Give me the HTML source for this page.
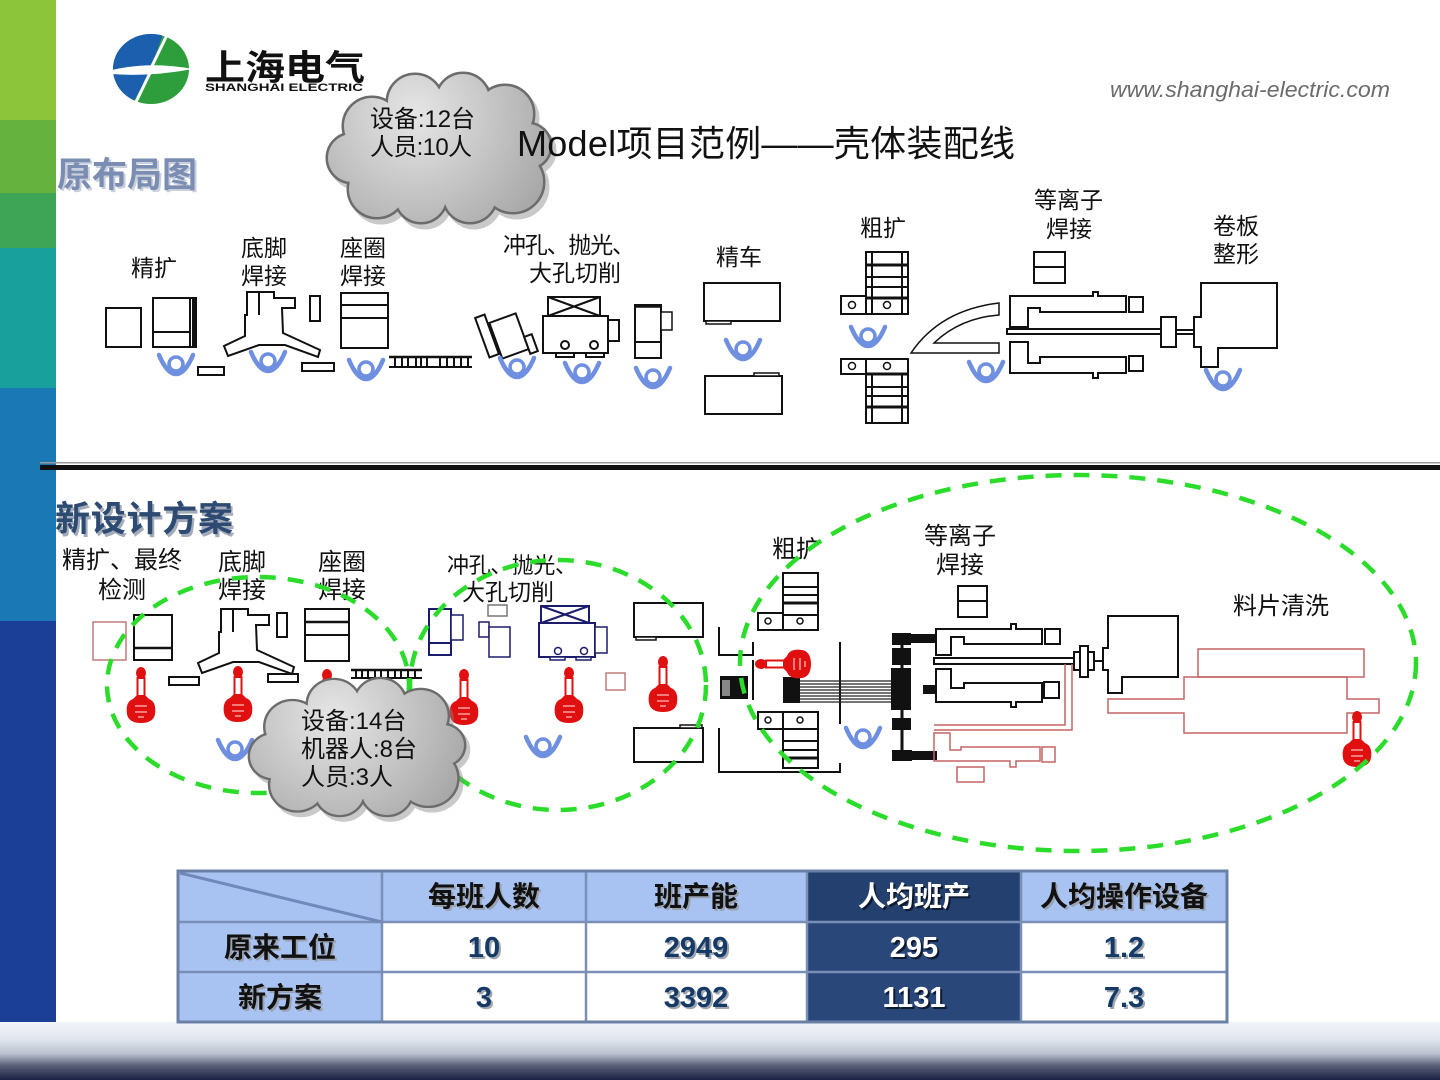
<!DOCTYPE html>
<html><head><meta charset="utf-8">
<style>
html,body{margin:0;padding:0;background:#fff;}
svg{display:block;}
text{font-family:"Liberation Sans","Noto Sans CJK SC",sans-serif;}
</style></head>
<body>
<svg width="1440" height="1080" viewBox="0 0 1440 1080" xmlns="http://www.w3.org/2000/svg" xmlns:xlink="http://www.w3.org/1999/xlink">
<defs>
 <linearGradient id="bot" x1="0" y1="0" x2="0" y2="1">
  <stop offset="0" stop-color="#f2f5fa"/>
  <stop offset="0.3" stop-color="#e0e6ee"/>
  <stop offset="0.55" stop-color="#b9bfcc"/>
  <stop offset="0.75" stop-color="#5a6078"/>
  <stop offset="1" stop-color="#1b2142"/>
 </linearGradient>
 <radialGradient id="cg" gradientUnits="userSpaceOnUse" cx="415" cy="115" r="160">
  <stop offset="0" stop-color="#e6e6e6"/>
  <stop offset="1" stop-color="#a2a2a2"/>
 </radialGradient>
 <g id="cc">
  <circle cx="372" cy="126" r="28"/><circle cx="415" cy="102" r="27"/><circle cx="463" cy="100" r="26"/>
  <circle cx="505" cy="114" r="28"/><circle cx="528" cy="146" r="22"/><circle cx="513" cy="182" r="30"/>
  <circle cx="470" cy="196" r="26"/><circle cx="421" cy="197" r="25"/><circle cx="377" cy="189" r="28"/>
  <circle cx="352" cy="158" r="24"/><circle cx="438" cy="150" r="55"/><circle cx="395" cy="152" r="45"/>
  <circle cx="482" cy="150" r="45"/>
 </g>
 <g id="cloud">
  <use xlink:href="#cc" href="#cc" fill="#888" stroke="#888" stroke-width="5" opacity="0.45" transform="translate(4,5)"/>
  <use xlink:href="#cc" href="#cc" fill="#6c6c6c" stroke="#6c6c6c" stroke-width="5"/>
  <use xlink:href="#cc" href="#cc" fill="url(#cg)"/>
 </g>
 <g id="op" fill="none" stroke="#6f8fe0" stroke-linecap="round">
  <path d="M-17,-10 C-12,2 -6,9 0,9 C6,9 12,2 17,-10" stroke-width="4.5"/>
  <circle cx="0" cy="-1" r="7" stroke-width="3.5"/>
 </g>
 <g id="rb">
  <ellipse cx="0" cy="5" rx="5" ry="6" fill="#e01010"/>
  <rect x="-3.5" y="10" width="7" height="18" fill="#fff" stroke="#e01010" stroke-width="2"/>
  <path d="M-4,27 H4 L8,31 C14,33 15,40 14,46 C13,52 8,55 0,55 C-8,55 -13,52 -14,46 C-15,40 -14,33 -8,31 Z" fill="#e01010"/>
  <path d="M-6,38 H6 M-6,44 H6 M-3,49 H3" stroke="#f7a0a0" stroke-width="1.5"/>
 </g>
 <g id="yfix">
  <polygon points="247,292 274,292 274,298 295,298 295,308 282,308 283,333 320,350 318,357 285,345 259,345 228,356 224,346 245,336 245,315 247,315" fill="#fff" stroke="#111" stroke-width="2"/>
  <line x1="259" y1="292" x2="259" y2="315" stroke="#111" stroke-width="2"/>
 </g>
 <clipPath id="lc"><ellipse cx="151" cy="69" rx="38" ry="35"/></clipPath>
</defs>

<!-- left bar -->
<rect x="0" y="0" width="56" height="120" fill="#8cc43a"/>
<rect x="0" y="120" width="56" height="73" fill="#66b23e"/>
<rect x="0" y="193" width="56" height="55" fill="#3ea456"/>
<rect x="0" y="248" width="56" height="140" fill="#17a09c"/>
<rect x="0" y="388" width="56" height="233" fill="#1a78b5"/>
<rect x="0" y="621" width="56" height="402" fill="#1b3e97"/>
<!-- bottom gradient -->
<rect x="0" y="1022" width="1440" height="58" fill="url(#bot)"/>

<!-- logo -->
<g clip-path="url(#lc)">
 <rect x="110" y="30" width="90" height="80" fill="#2e9e3c"/>
 <path d="M100,20 H168 L148,76 L132,104 H100 Z" fill="#1b5fae"/>
</g>
<path d="M112,70 Q150,61 193,69 Q150,77 112,74 Z" fill="#fff"/>
<line x1="168" y1="33" x2="150" y2="70" stroke="#fff" stroke-width="3"/>
<line x1="150" y1="73" x2="135" y2="104" stroke="#fff" stroke-width="3"/>
<text x="205" y="80" font-size="35" font-weight="bold" fill="#111" textLength="160" lengthAdjust="spacingAndGlyphs">上海电气</text>
<text x="205" y="91" font-size="11" font-weight="bold" fill="#111" textLength="158" lengthAdjust="spacingAndGlyphs">SHANGHAI ELECTRIC</text>

<text x="1110" y="97" font-size="22" font-style="italic" fill="#6b6b6b" textLength="280" lengthAdjust="spacingAndGlyphs">www.shanghai-electric.com</text>

<!-- cloud 1 -->
<use xlink:href="#cloud" href="#cloud"/>
<text x="370" y="127" font-size="24" fill="#111" textLength="105">设备:12台</text>
<text x="370" y="155" font-size="24" fill="#111" textLength="102">人员:10人</text>

<text x="517" y="156" font-size="36" fill="#111" textLength="498">Model项目范例——壳体装配线</text>

<text x="59" y="189" font-size="35" font-weight="bold" fill="#c9d0dc" textLength="140">原布局图</text>
<text x="57" y="187" font-size="35" font-weight="bold" fill="#7b8db2" textLength="140">原布局图</text>

<!-- top labels -->
<g font-size="23" fill="#111">
 <text x="131" y="276">精扩</text>
 <text x="241" y="256">底脚</text><text x="241" y="284">焊接</text>
 <text x="340" y="256">座圈</text><text x="340" y="284">焊接</text>
 <text x="503" y="253" textLength="132">冲孔、抛光、</text>
 <text x="529" y="281">大孔切削</text>
 <text x="716" y="265">精车</text>
 <text x="860" y="236">粗扩</text>
 <text x="1034" y="208">等离子</text><text x="1046" y="237">焊接</text>
 <text x="1213" y="234">卷板</text><text x="1213" y="262">整形</text>
</g>

<!-- top machines -->
<g fill="#fff" stroke="#111" stroke-width="2">
 <rect x="106" y="308" width="35" height="39"/>
 <rect x="153" y="298" width="43" height="49"/>
 <line x1="153" y1="332" x2="190" y2="332"/>
 <line x1="190" y1="298" x2="190" y2="347"/>
 <line x1="194" y1="298" x2="194" y2="347" stroke-width="4"/>
 <rect x="310" y="296" width="10" height="25"/>
 <rect x="198" y="367" width="26" height="8"/>
 <rect x="302" y="363" width="32" height="8"/>
 <rect x="341" y="293" width="47" height="55"/>
 <line x1="341" y1="305" x2="388" y2="305"/><line x1="341" y1="318" x2="388" y2="318"/>
 <!-- conveyor -->
 <line x1="389" y1="357" x2="472" y2="357" stroke-width="2.5"/>
 <line x1="389" y1="367" x2="472" y2="367" stroke-width="2"/>
 <path d="M395,357V367M402,357V367M408,357V367M416,357V367M421,357V367M427,357V367M440,357V367M447,357V367M454,357V367M461,357V367M468,357V367"/>
 <!-- punch -->
 <rect x="482" y="315" width="10" height="42" transform="rotate(-20 487 336)"/>
 <rect x="495" y="317" width="28" height="38" transform="rotate(-20 509 336)"/>
 <rect x="527" y="335" width="8" height="18" transform="rotate(-20 531 344)"/>
 <rect x="548" y="297" width="52" height="19"/>
 <path d="M548,297 L600,316 M600,297 L548,316" fill="none"/>
 <rect x="543" y="316" width="65" height="37"/>
 <circle cx="565" cy="345" r="4"/><circle cx="594" cy="345" r="4"/>
 <rect x="556" y="353" width="18" height="4"/><rect x="586" y="353" width="18" height="4"/>
 <rect x="608" y="320" width="11" height="21"/>
 <rect x="635" y="305" width="26" height="53"/>
 <line x1="635" y1="306" x2="661" y2="306" stroke-width="3.5"/>
 <line x1="635" y1="342" x2="661" y2="342"/>
 <rect x="661" y="312" width="11" height="18" stroke-width="1.5"/>
 <!-- 精车 -->
 <rect x="704" y="283" width="76" height="38"/>
 <rect x="706" y="321" width="25" height="3" stroke-width="1.5"/>
 <rect x="705" y="376" width="77" height="38"/>
 <rect x="754" y="373" width="25" height="3" stroke-width="1.5"/>
 <!-- 粗扩 -->
 <rect x="866" y="252" width="42" height="62"/>
 <path d="M872,252V314M902,252V314M866,277H908M866,287H908" fill="none"/>
 <path d="M866,265H908M866,298H908" stroke-width="3"/>
 <rect x="841" y="296" width="25" height="18"/>
 <circle cx="852" cy="305" r="3.5" stroke-width="1.5"/><circle cx="887" cy="305" r="3.5" stroke-width="1.5"/>
 <rect x="866" y="359" width="42" height="64"/>
 <path d="M872,374V423M902,374V423M866,387H908M866,396H908" fill="none"/>
 <path d="M866,374H908M866,407H908" stroke-width="3"/>
 <rect x="841" y="359" width="25" height="15"/>
 <circle cx="852" cy="366" r="3.5" stroke-width="1.5"/><circle cx="887" cy="366" r="3.5" stroke-width="1.5"/>
 <path d="M911,353 Q940,310 999,303 V315 Q960,318 934,343 H999 V353 Z" stroke-width="1.5"/>
 <!-- plasma -->
 <rect x="1034" y="252" width="31" height="15"/><rect x="1034" y="267" width="31" height="16"/>
 <path d="M1010,296 H1093 V292 H1098 V296 H1126 V312 H1040 V308 H1028 V327 H1010 Z"/>
 <rect x="1129" y="297" width="14" height="15"/>
 <rect x="1007" y="329" width="155" height="5"/>
 <path d="M1010,342 H1028 V363 H1040 V357 H1126 V373 H1098 V378 H1093 V373 H1010 Z"/>
 <rect x="1129" y="356" width="14" height="15"/>
 <rect x="1161" y="317" width="15" height="30"/>
 <rect x="1176" y="330" width="19" height="4"/>
 <path d="M1201,283 H1277 V348 H1218 V367 H1201 V347 H1194 V317 H1201 Z"/>
</g>
<use xlink:href="#yfix" href="#yfix"/>

<!-- top operators -->
<use xlink:href="#op" href="#op" x="176" y="365"/>
<use xlink:href="#op" href="#op" x="268" y="362"/>
<use xlink:href="#op" href="#op" x="366" y="370"/>
<use xlink:href="#op" href="#op" x="517" y="368"/>
<use xlink:href="#op" href="#op" x="582" y="373"/>
<use xlink:href="#op" href="#op" x="653" y="378"/>
<use xlink:href="#op" href="#op" x="743" y="350"/>
<use xlink:href="#op" href="#op" x="868" y="337"/>
<use xlink:href="#op" href="#op" x="986" y="372"/>
<use xlink:href="#op" href="#op" x="1223" y="380"/>

<!-- separator -->
<rect x="40" y="462" width="1400" height="1.5" fill="#9a9a9a"/>
<rect x="40" y="465" width="1400" height="5" fill="#111"/>

<!-- new design title -->
<text x="57" y="534" font-size="35" font-weight="bold" fill="#a4abb8" textLength="178">新设计方案</text>
<text x="55" y="531" font-size="35" font-weight="bold" fill="#2c4a72" textLength="178">新设计方案</text>

<!-- bottom labels -->
<g font-size="24" fill="#111">
 <text x="62" y="568" textLength="120">精扩、最终</text>
 <text x="98" y="598">检测</text>
 <text x="218" y="570">底脚</text><text x="218" y="598">焊接</text>
 <text x="318" y="570">座圈</text><text x="318" y="598">焊接</text>
 <text x="447" y="573" font-size="22" textLength="130">冲孔、抛光、</text>
 <text x="462" y="600" font-size="23">大孔切削</text>
 <text x="772" y="557">粗扩</text>
 <text x="924" y="544">等离子</text><text x="936" y="573">焊接</text>
 <text x="1233" y="614">料片清洗</text>
</g>

<!-- bottom machines left -->
<g fill="#fff" stroke="#111" stroke-width="2">
 <rect x="134" y="615" width="38" height="45"/>
 <line x1="134" y1="648" x2="172" y2="648" stroke-width="2.5"/>
 <rect x="277" y="613" width="10" height="24"/>
 <rect x="169" y="677" width="30" height="8"/>
 <rect x="268" y="674" width="30" height="8"/>
 <rect x="305" y="609" width="44" height="52"/>
 <line x1="305" y1="622" x2="349" y2="622" stroke-width="2.5"/><line x1="305" y1="635" x2="349" y2="635"/>
 <line x1="351" y1="670" x2="422" y2="670" stroke-width="2.5"/>
 <line x1="351" y1="678" x2="422" y2="678"/>
 <path d="M356,670V678M362,670V678M368,670V678M375,670V678M381,670V678M388,670V678M395,670V678M401,670V678M408,670V678M415,670V678"/>
</g>
<use xlink:href="#yfix" href="#yfix" transform="translate(-26,317)"/>
<rect x="93" y="622" width="33" height="38" fill="#fff" stroke="#c07a7a" stroke-width="1.5"/>
<rect x="606" y="673" width="19" height="17" fill="#fff" stroke="#c07a7a" stroke-width="1.5"/>
<g fill="#fff" stroke="#1c1c6c" stroke-width="2">
 <rect x="429" y="609" width="22" height="46"/>
 <line x1="429" y1="643" x2="451" y2="643"/>
 <rect x="451" y="615" width="12" height="25" stroke-width="1.5"/>
 <rect x="488" y="605" width="19" height="11" stroke="#777" stroke-width="1.5"/>
 <rect x="479" y="622" width="10" height="15" stroke-width="1.5"/>
 <rect x="489" y="627" width="21" height="30" stroke-width="1.5"/>
 <rect x="541" y="606" width="48" height="17"/>
 <path d="M541,606 L589,623 M589,606 L541,623" fill="none"/>
 <rect x="539" y="623" width="56" height="34"/>
 <rect x="595" y="627" width="12" height="26" stroke-width="1.5"/>
 <circle cx="558" cy="651" r="3.5" stroke-width="1.5"/><circle cx="584" cy="651" r="3.5" stroke-width="1.5"/>
 <rect x="550" y="657" width="15" height="3" stroke-width="1.5"/><rect x="576" y="657" width="15" height="3" stroke-width="1.5"/>
</g>
<g fill="#fff" stroke="#111" stroke-width="2">
 <rect x="634" y="603" width="69" height="34"/>
 <rect x="636" y="637" width="20" height="3" stroke-width="1.5"/>
 <rect x="634" y="728" width="69" height="34"/>
 <rect x="680" y="725" width="22" height="3" stroke-width="1.5"/>
</g>

<!-- bottom right group -->
<g fill="none" stroke="#111" stroke-width="2">
 <path d="M719,627 V655 H753 V642"/>
 <line x1="753" y1="660" x2="753" y2="700"/>
 <path d="M719,728 V772 H840 V763"/>
 <line x1="840" y1="642" x2="840" y2="724"/>
</g>
<rect x="720" y="676" width="28" height="23" fill="#111"/>
<rect x="722" y="680" width="8" height="16" fill="#888"/>
<g fill="#fff" stroke="#111" stroke-width="2">
 <rect x="783" y="573" width="35" height="57"/>
 <path d="M783,587H818M783,595H818M783,615H818" fill="none"/>
 <line x1="783" y1="603" x2="818" y2="603" stroke-width="3"/>
 <rect x="758" y="613" width="25" height="17"/>
 <rect x="783" y="712" width="35" height="56"/>
 <path d="M783,729H818M783,741H818M783,750H818" fill="none"/>
 <line x1="783" y1="758" x2="818" y2="758" stroke-width="3"/>
 <rect x="758" y="712" width="25" height="17"/>
 <circle cx="768" cy="621" r="3" stroke-width="1.5"/><circle cx="800" cy="621" r="3" stroke-width="1.5"/>
 <circle cx="768" cy="720" r="3" stroke-width="1.5"/><circle cx="800" cy="720" r="3" stroke-width="1.5"/>
</g>
<rect x="783" y="677" width="17" height="26" fill="#111"/>
<path d="M800,681H893M800,684H893M800,687H893M800,690H893M800,693H893M800,696H893M800,699H893M800,702H893" stroke="#222" stroke-width="1.2"/>
<line x1="902" y1="633" x2="902" y2="760" stroke="#111" stroke-width="3"/>
<g fill="#111">
 <rect x="892" y="633" width="19" height="12"/>
 <rect x="892" y="648" width="19" height="17"/>
 <rect x="891" y="668" width="20" height="42"/>
 <rect x="892" y="718" width="19" height="12"/>
 <rect x="892" y="750" width="20" height="11"/>
 <rect x="911" y="634" width="26" height="9"/>
 <rect x="923" y="685" width="14" height="9"/>
 <rect x="896" y="751" width="41" height="9"/>
</g>
<g fill="#fff" stroke="#111" stroke-width="2">
 <rect x="958" y="586" width="29" height="15"/><rect x="958" y="601" width="29" height="16"/>
 <path d="M936,629 H1011 V624 H1016 V629 H1042 V644 H964 V637 H951 V655 H936 Z"/>
 <rect x="1045" y="629" width="15" height="15"/>
 <rect x="934" y="658" width="160" height="6"/>
 <path d="M936,669 H951 V688 H964 V683 H1042 V702 H1016 V707 H1011 V702 H936 Z"/>
 <rect x="1044" y="682" width="15" height="16"/>
 <rect x="1074" y="652" width="20" height="18"/>
 <rect x="1080" y="646" width="8" height="31"/>
 <line x1="1094" y1="661" x2="1108" y2="661"/>
 <path d="M1108,616 H1178 V677 H1122 V693 H1108 V670 H1103 V648 H1108 Z"/>
</g>
<g fill="none" stroke="#c46464" stroke-width="1.5">
 <path d="M934,733 H950 V750 H961 V747 H1040 V761 H1016 V767 H1010 V761 H934 Z"/>
 <rect x="1042" y="747" width="13" height="15"/>
 <rect x="957" y="767" width="27" height="15"/>
 <path d="M934,725 H1065 V664 M1072,664 V730 H934"/>
 <rect x="1198" y="649" width="166" height="28"/>
 <path d="M1184,677 H1347 V699 H1379 V713 H1347 V733 H1184 V713 H1108 V699 H1184 Z"/>
</g>

<!-- robots -->
<use xlink:href="#rb" href="#rb" x="141" y="668"/>
<use xlink:href="#rb" href="#rb" x="238" y="667"/>
<use xlink:href="#rb" href="#rb" x="327" y="670"/>
<use xlink:href="#rb" href="#rb" x="464" y="670"/>
<use xlink:href="#rb" href="#rb" x="569" y="668"/>
<use xlink:href="#rb" href="#rb" x="663" y="657"/>
<use xlink:href="#rb" href="#rb" transform="translate(756,664) rotate(-90)"/>
<use xlink:href="#rb" href="#rb" x="1357" y="712"/>

<!-- bottom operators -->
<use xlink:href="#op" href="#op" x="235" y="750"/>
<use xlink:href="#op" href="#op" x="543" y="747"/>
<use xlink:href="#op" href="#op" x="863" y="738"/>

<!-- green dashed ellipses -->
<g fill="none" stroke="#2bdc2b" stroke-width="4.5" stroke-dasharray="16 12">
 <ellipse cx="258" cy="685" rx="151" ry="108"/>
 <ellipse cx="558" cy="685" rx="148" ry="125"/>
 <ellipse cx="1078" cy="663" rx="338" ry="188"/>
</g>

<!-- cloud 2 -->
<use xlink:href="#cloud" href="#cloud" transform="translate(250,680) scale(0.964,0.918) translate(-328,-75)"/>
<text x="301" y="729" font-size="24" fill="#111">设备:14台</text>
<text x="301" y="757" font-size="24" fill="#111">机器人:8台</text>
<text x="301" y="785" font-size="24" fill="#111">人员:3人</text>

<!-- table -->
<g stroke="none">
 <rect x="178" y="871" width="629" height="51" fill="#a8c2f2"/>
 <rect x="807" y="871" width="214" height="51" fill="#23406e"/>
 <rect x="1021" y="871" width="206" height="51" fill="#a8c2f2"/>
 <rect x="178" y="922" width="204" height="100" fill="#a8c2f2"/>
 <rect x="382" y="922" width="425" height="100" fill="#fff"/>
 <rect x="807" y="922" width="214" height="100" fill="#2a477a"/>
 <rect x="1021" y="922" width="206" height="100" fill="#fff"/>
</g>
<g stroke="#7a8fb5" stroke-width="2.5">
 <line x1="382" y1="871" x2="382" y2="1022"/>
 <line x1="586" y1="871" x2="586" y2="1022"/>
 <line x1="807" y1="871" x2="807" y2="1022"/>
 <line x1="1021" y1="871" x2="1021" y2="1022"/>
 <line x1="178" y1="922" x2="1227" y2="922"/>
 <line x1="178" y1="972" x2="1227" y2="972"/>
 <line x1="180" y1="873" x2="382" y2="922" stroke="#7188bb" stroke-width="3"/>
</g>
<rect x="178" y="871" width="1049" height="151" fill="none" stroke="#6b80a6" stroke-width="3"/>

<g font-size="28" font-weight="bold" text-anchor="middle">
 <g fill="#9aa2b0">
  <text x="486" y="908">每班人数</text><text x="698" y="908">班产能</text><text x="1126" y="908">人均操作设备</text>
  <text x="282" y="959">原来工位</text><text x="282" y="1009">新方案</text>
 </g>
 <text x="484" y="906" fill="#111">每班人数</text>
 <text x="696" y="906" fill="#111">班产能</text>
 <text x="916" y="908" fill="#0e1a30">人均班产</text>
 <text x="914" y="906" fill="#fff">人均班产</text>
 <text x="1124" y="906" fill="#111">人均操作设备</text>
 <text x="280" y="957" fill="#111">原来工位</text>
 <text x="280" y="1007" fill="#111">新方案</text>
</g>
<g font-size="29" font-weight="bold" text-anchor="middle">
 <g fill="#a0a6b0">
  <text x="486" y="959">10</text><text x="698" y="959">2949</text><text x="1126" y="959">1.2</text>
  <text x="486" y="1009">3</text><text x="698" y="1009">3392</text><text x="1126" y="1009">7.3</text>
 </g>
 <g fill="#0e1a30">
  <text x="916" y="959">295</text><text x="916" y="1009">1131</text>
 </g>
 <g fill="#163a66">
  <text x="484" y="957">10</text><text x="696" y="957">2949</text><text x="1124" y="957">1.2</text>
  <text x="484" y="1007">3</text><text x="696" y="1007">3392</text><text x="1124" y="1007">7.3</text>
 </g>
 <g fill="#fff">
  <text x="914" y="957">295</text><text x="914" y="1007">1131</text>
 </g>
</g>
</svg>
</body></html>
